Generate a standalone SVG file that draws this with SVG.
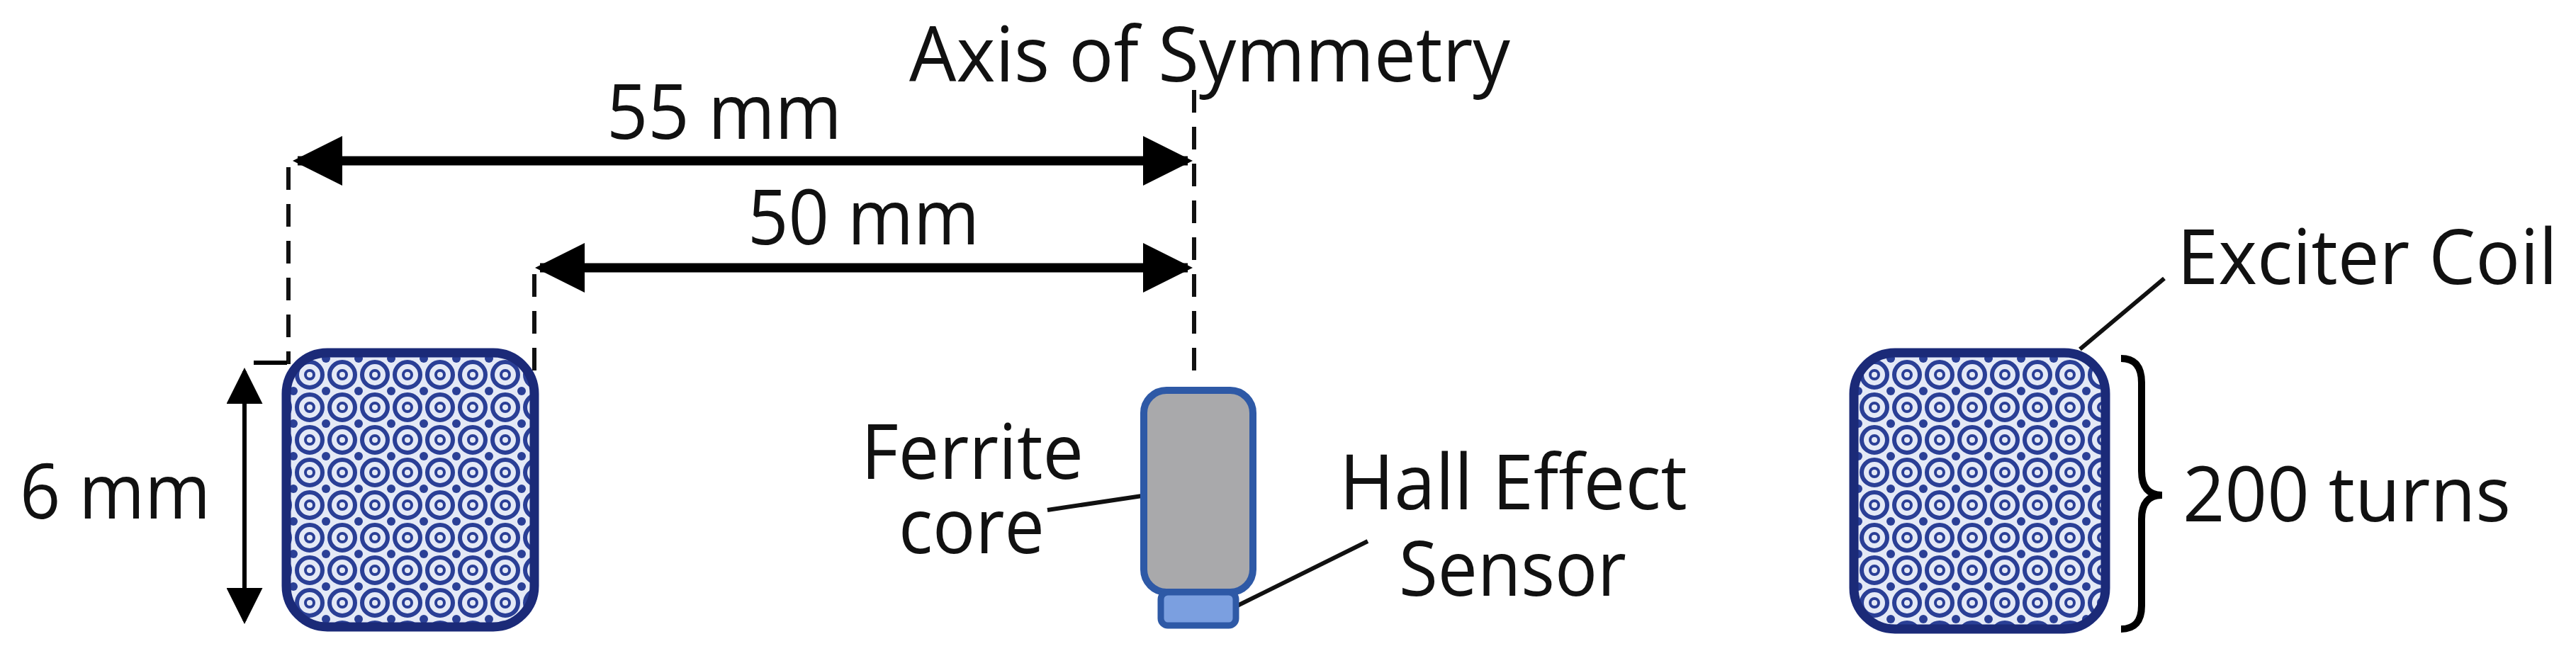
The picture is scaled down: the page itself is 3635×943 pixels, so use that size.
<svg xmlns="http://www.w3.org/2000/svg" width="3635" height="943" viewBox="0 0 3635 943">
<style>
text{font-family:"Open Sans","Noto Sans",sans-serif;font-size:108px;fill:#111}
.dash{stroke:#111;stroke-width:6;stroke-dasharray:32 20;fill:none}
.dim{stroke:#000;stroke-width:13;fill:none}
.thin{stroke:#000;stroke-width:6;fill:none}
.lead{stroke:#111;stroke-width:6;fill:none}
.coil{fill:url(#wind);stroke:#1b2a78;stroke-width:13}
</style>
<defs>
<pattern id="wind" width="46" height="46" patternUnits="userSpaceOnUse">
<rect width="46" height="46" fill="#e4e9f6"/>
<circle cx="23" cy="23" r="18" fill="none" stroke="#2a3f96" stroke-width="6"/>
<circle cx="23" cy="23" r="6" fill="none" stroke="#2a3f96" stroke-width="4"/>
<circle cx="0" cy="0" r="6" fill="#2a3f96"/><circle cx="46" cy="0" r="6" fill="#2a3f96"/><circle cx="0" cy="46" r="6" fill="#2a3f96"/><circle cx="46" cy="46" r="6" fill="#2a3f96"/>
</pattern>
<marker id="ah" viewBox="0 0 10 10" refX="9" refY="5" markerWidth="5.4" markerHeight="5.4" orient="auto-start-reverse"><path d="M0,0 L10,5 L0,10 z" fill="#000"/></marker>
<marker id="ah2" viewBox="0 0 10 10" refX="9" refY="5" markerWidth="11.5" markerHeight="8.5" orient="auto-start-reverse"><path d="M0,0 L10,5 L0,10 z" fill="#000"/></marker>
</defs>
<g id="connectors">
<line class="dash" x1="407" y1="236" x2="407" y2="514"/>
<line class="thin" x1="358" y1="512" x2="405" y2="512"/>
<line class="dash" x1="754" y1="387" x2="754" y2="544"/>
<line class="dash" x1="1685" y1="127" x2="1685" y2="538"/>
<line class="dim" x1="420" y1="227" x2="1676" y2="227" marker-start="url(#ah)" marker-end="url(#ah)"/>
<line class="dim" x1="762" y1="378" x2="1676" y2="378" marker-start="url(#ah)" marker-end="url(#ah)"/>
<line class="thin" x1="345" y1="524" x2="345" y2="876" marker-start="url(#ah2)" marker-end="url(#ah2)"/>
<line class="lead" x1="1478" y1="720" x2="1645" y2="695"/>
<line class="lead" x1="1732" y1="862" x2="1930" y2="764"/>
<line class="lead" x1="2935" y1="493" x2="3054" y2="393"/>
<path d="M2993,506 Q3022,506 3022,540 L3022,665 Q3022,699 3051,699 Q3022,699 3022,733 L3022,855 Q3022,888 2993,888" fill="none" stroke="#000" stroke-width="10"/>
</g>
<g id="left-coil"><rect class="coil" x="404" y="498" width="350" height="387" rx="58"/></g>
<g id="right-coil"><rect class="coil" x="2616" y="498" width="355" height="390" rx="58"/></g>
<g id="sensor">
<rect x="1614" y="551" width="154" height="285" rx="32" fill="#a9a9ab" stroke="#2e59a6" stroke-width="10"/>
<rect x="1638" y="836" width="106" height="47" rx="10" fill="#7b9fe0" stroke="#2e59a6" stroke-width="9"/>
</g>
<g id="labels">
<text x="1283" y="115" textLength="848" lengthAdjust="spacingAndGlyphs">Axis of Symmetry</text>
<text x="856" y="196" textLength="332" lengthAdjust="spacingAndGlyphs">55 mm</text>
<text x="1055" y="345" textLength="327" lengthAdjust="spacingAndGlyphs">50 mm</text>
<text x="28" y="732" textLength="269" lengthAdjust="spacingAndGlyphs">6 mm</text>
<text x="1215" y="676" textLength="314" lengthAdjust="spacingAndGlyphs">Ferrite</text>
<text x="1268" y="781" textLength="206" lengthAdjust="spacingAndGlyphs">core</text>
<text x="1890" y="719" textLength="491" lengthAdjust="spacingAndGlyphs">Hall Effect</text>
<text x="1974" y="841" textLength="321" lengthAdjust="spacingAndGlyphs">Sensor</text>
<text x="3072" y="401" textLength="537" lengthAdjust="spacingAndGlyphs">Exciter Coil</text>
<text x="3080" y="736" textLength="463" lengthAdjust="spacingAndGlyphs">200 turns</text>
</g>
</svg>
